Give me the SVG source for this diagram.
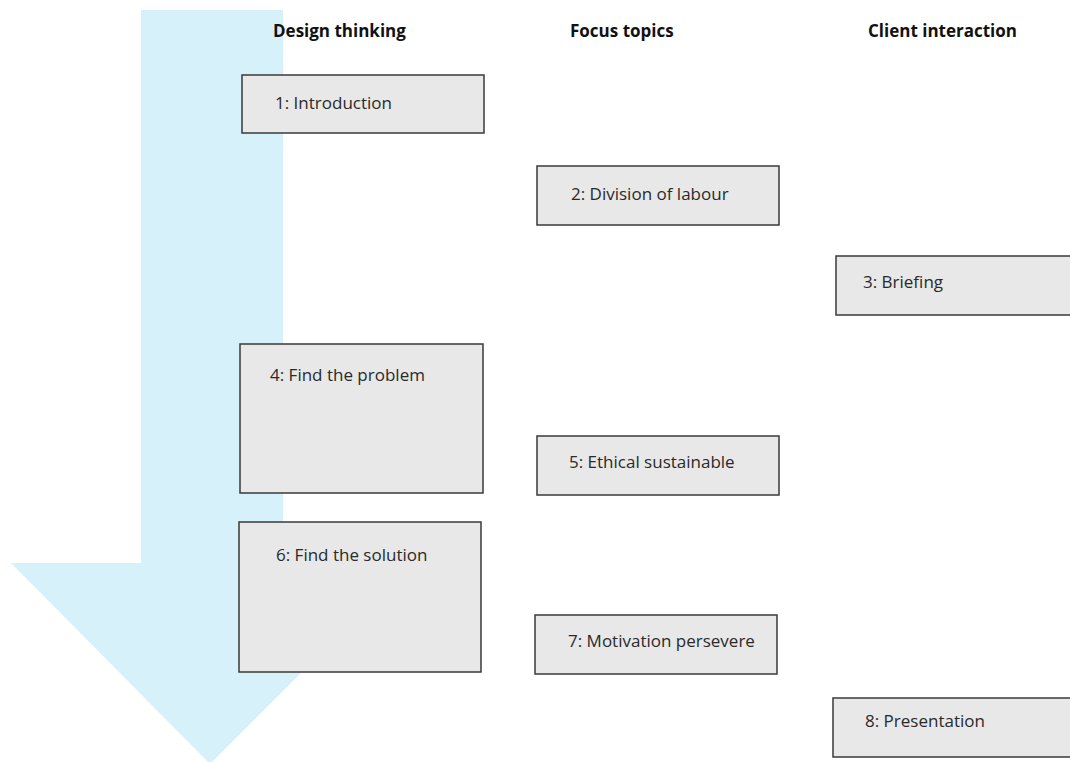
<svg xmlns="http://www.w3.org/2000/svg" width="1070" height="762" viewBox="0 0 1070 762">
<style>
.bg{fill:#ffffff}
.arrow{fill:#d7f1fa;stroke:none}
.box{fill:#e8e8e8;stroke:#3a3a3a;stroke-width:1.5}
.lbl{font-family:"Open Sans","Noto Sans",sans-serif;font-size:17px;fill:#2a2a2a}
.hdr{font-family:"Open Sans","Noto Sans",sans-serif;font-size:17px;font-weight:bold;fill:#111111}
</style>
<rect class="bg" x="0" y="0" width="1070" height="762"/>
<g id="flow-arrow">
<path class="arrow" d="M141,10 L283,10 L283,563 L411,563 L210,764 L11,563 L141,563 Z"/>
</g>
<g id="headers">
<text class="hdr" x="273" y="37">Design thinking</text>
<text class="hdr" x="570" y="37">Focus topics</text>
<text class="hdr" x="868" y="37">Client interaction</text>
</g>
<g id="connectors"></g>
<g id="n1"><rect class="box" x="242" y="75" width="242" height="58"/><text class="lbl" x="275" y="109">1: Introduction</text></g>
<g id="n2"><rect class="box" x="537" y="166" width="242" height="59"/><text class="lbl" x="571" y="200">2: Division of labour</text></g>
<g id="n3"><rect class="box" x="836" y="256" width="240" height="59"/><text class="lbl" x="863" y="288">3: Briefing</text></g>
<g id="n4"><rect class="box" x="240" y="344" width="243" height="149"/><text class="lbl" x="270" y="381">4: Find the problem</text></g>
<g id="n5"><rect class="box" x="537" y="436" width="242" height="59"/><text class="lbl" x="569" y="468">5: Ethical sustainable</text></g>
<g id="n6"><rect class="box" x="239" y="522" width="242" height="150"/><text class="lbl" x="276" y="561">6: Find the solution</text></g>
<g id="n7"><rect class="box" x="535" y="615" width="242" height="59"/><text class="lbl" x="568" y="647">7: Motivation persevere</text></g>
<g id="n8"><rect class="box" x="833" y="698" width="240" height="59"/><text class="lbl" x="865" y="727">8: Presentation</text></g>
</svg>
